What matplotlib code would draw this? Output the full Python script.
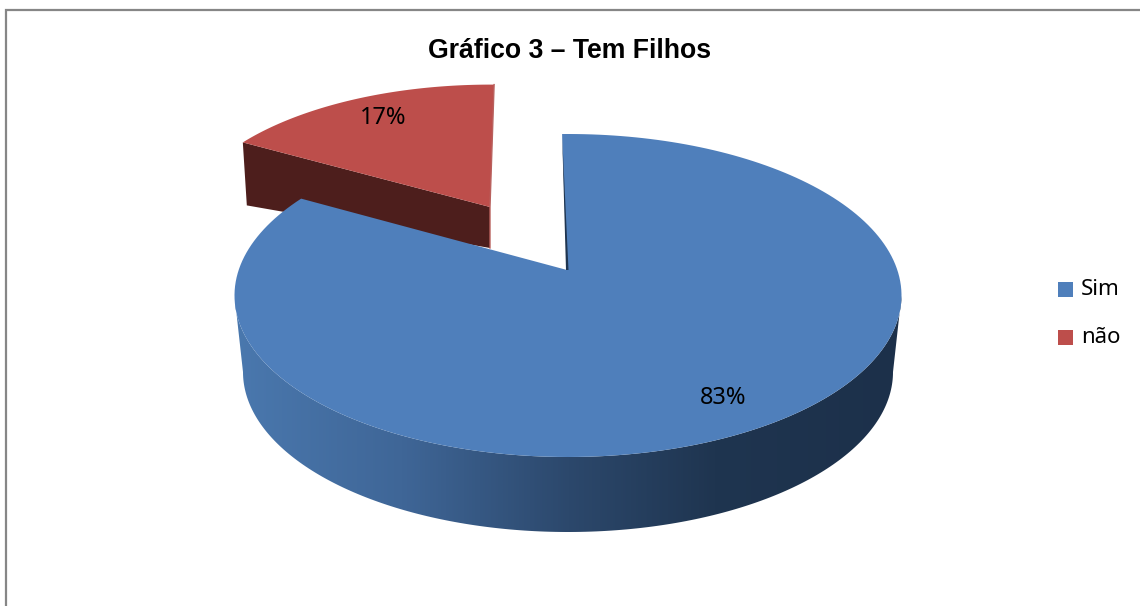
import numpy as np
import matplotlib
matplotlib.use("Agg")
import matplotlib.pyplot as plt
from matplotlib.colors import LinearSegmentedColormap
from matplotlib.patches import Polygon, Rectangle

title = "Gráfico 3 – Tem Filhos"
categories = ["Sim", "não"]
percents = [83, 17]
colors = ["#4f7fbb", "#bd4e4b"]

W, H = 1140, 606

# pie geometry, in pixels of the picture
BLUE_APEX = (567, 270)
BLUE_CENTER = (568, 295.5)
BLUE_RX, BLUE_RY = 333.5, 161.5
LOW_CENTER = (568, 372)
LOW_RX, LOW_RY = 325, 160
EXPLODE = (-77, -63)
RED_SCALE_X, RED_SCALE_Y = 0.932, 0.9
SIDE_STOPS = [(0.0, "#4a78ae"), (0.25, "#3f6697"), (0.5, "#2c486c"),
              (0.72, "#1f3550"), (1.0, "#1c304a")]


def wedge_arc(apex, center, rx, ry, a0, a1, n=200):
    # arc points seen from the apex, angles clockwise from the top
    th = np.radians(np.linspace(a0, a1, n))
    ux, uy = (apex[0] - center[0]) / rx, (apex[1] - center[1]) / ry
    vx, vy = np.sin(th), -np.cos(th)
    b = ux * vx + uy * vy
    s = -b + np.sqrt(b * b - (ux * ux + uy * uy - 1))
    return np.column_stack([apex[0] + s * vx * rx, apex[1] + s * vy * ry])


fig = plt.figure(figsize=(W / 100, H / 100), dpi=100)
ax = fig.add_axes([0, 0, 1, 1])
ax.set_xlim(0, W)
ax.set_ylim(H, 0)
ax.axis("off")

# outer frame, only top and left are inside the crop
ax.plot([5.5, 5.5, W], [H, 10, 10], color="#868686", lw=1.6, solid_joinstyle="miter")

ax.text(569.5, 50.5, title, ha="center", va="center", fontsize=19.2,
        fontweight="bold", family="Liberation Sans", color="black")

blue_sweep = percents[0] / sum(percents) * 360
red_sweep = percents[1] / sum(percents) * 360

# exploded slice
red_apex = (BLUE_APEX[0] + EXPLODE[0], BLUE_APEX[1] + EXPLODE[1])
red_center = (red_apex[0] + RED_SCALE_X * (BLUE_CENTER[0] - BLUE_APEX[0]),
              red_apex[1] + RED_SCALE_Y * (BLUE_CENTER[1] - BLUE_APEX[1]))
red_rot = 0.9
red_arc = wedge_arc(red_apex, red_center, BLUE_RX * RED_SCALE_X, BLUE_RY * RED_SCALE_Y,
                    360 - red_sweep + red_rot - 0.5, 360 + red_rot)
left_end = red_arc[0]
ax.add_patch(Polygon([left_end, red_apex, (red_apex[0], red_apex[1] + 41),
                      (left_end[0] + 4, left_end[1] + 63)],
                     closed=True, fc="#4d1e1c", ec="none", zorder=2))
ax.add_patch(Polygon(np.vstack([[red_apex], red_arc]), closed=True,
                     fc=colors[1], ec="none", zorder=3))
ax.plot([red_arc[-1][0], red_apex[0], red_apex[0]],
        [red_arc[-1][1], red_apex[1], red_apex[1] + 41],
        color="#b9615e", lw=1, zorder=3)

# blue side wall with the left to right shading
tt = np.radians(np.linspace(-90, 90, 200))
top_rim = np.column_stack([BLUE_CENTER[0] + BLUE_RX * np.sin(tt),
                           BLUE_CENTER[1] + BLUE_RY * np.cos(tt)])
low_rim = np.column_stack([LOW_CENTER[0] + LOW_RX * np.sin(tt),
                           LOW_CENTER[1] + LOW_RY * np.cos(tt)])
wall = Polygon(np.vstack([top_rim, low_rim[::-1]]), closed=True, fc="none", ec="none",
               transform=ax.transData)
ax.add_patch(wall)
side_cmap = LinearSegmentedColormap.from_list("side", SIDE_STOPS)
im = ax.imshow(np.linspace(0, 1, 512)[None, :], cmap=side_cmap, aspect="auto",
               extent=(235, 902, 540, 290), zorder=4)
im.set_clip_path(wall)
ax.set_xlim(0, W)
ax.set_ylim(H, 0)

# blue top face, the far edge runs a little past the true angle in perspective
blue_rot = -1.0
blue_arc = wedge_arc(BLUE_APEX, BLUE_CENTER, BLUE_RX, BLUE_RY, blue_rot, blue_rot + blue_sweep + 1.2)
ax.add_patch(Polygon(np.vstack([[BLUE_APEX], blue_arc]), closed=True,
                     fc=colors[0], ec="none", zorder=5))
# thin dark cut face beside the gap
ax.add_patch(Polygon([blue_arc[0], (BLUE_APEX[0] - 1, BLUE_APEX[1]), (BLUE_APEX[0] + 1.5, BLUE_APEX[1])],
                     closed=True, fc="#1f3550", ec="none", zorder=6))

label_font = "Noto Sans"
ax.text(723.5, 397.5, f"{percents[0]}%", ha="center", va="center", fontsize=17,
        family=label_font, color="black", zorder=7)
ax.text(383, 117.5, f"{percents[1]}%", ha="center", va="center", fontsize=17,
        family=label_font, color="black", zorder=7)

# legend
for name, col, y in zip(categories, colors, [289, 337]):
    ax.add_patch(Rectangle((1058, y - 7.5), 15, 15, fc=col, ec="none"))
    ax.text(1081, y + 0.5, name, ha="left", va="center", fontsize=16,
            family=label_font, color="black")

fig.savefig("out.png", dpi=100, facecolor="white")
